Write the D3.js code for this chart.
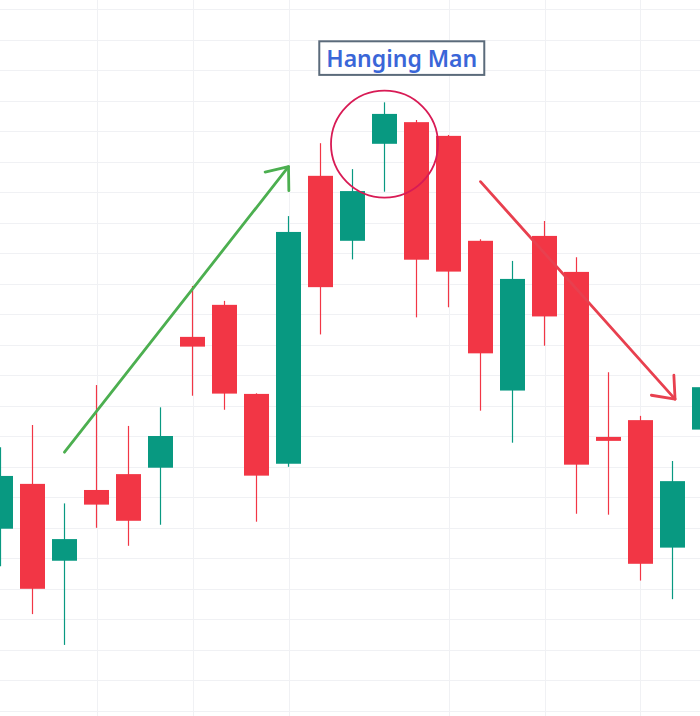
<!DOCTYPE html>
<html>
<head>
<meta charset="utf-8">
<script src="https://cdn.jsdelivr.net/npm/d3@7"></script>
<style>
  body { margin: 0; background: #fff; }
  svg { display: block; }
</style>
</head>
<body>
<svg width="700" height="716"></svg>
<script>
// candles (price units, one grid step = 10)
const opens  = [59.7, 74.4, 49.2, 72.4, 77.6, 79.7, 122.6, 133.1, 103.9, 81.0, 175.4, 154.1, 185.9, 193.0, 188.5, 154.1, 105.0, 155.7, 143.9, 89.8, 95.3, 53.5, 92.2];
const highs  = [86.4, 93.7, 68.0, 106.8, 93.4, 99.5, 139.3, 134.4, 104.1, 162.2, 186.1, 177.6, 199.5, 193.7, 188.8, 154.6, 147.5, 160.6, 148.7, 111.0, 96.7, 81.9, 110.0];
const lows   = [47.4, 31.7, 21.6, 60.0, 54.1, 61.0, 103.3, 98.7, 62.0, 80.0, 123.4, 148.0, 170.2, 129.0, 132.3, 98.4, 87.9, 119.7, 64.6, 64.3, 42.7, 36.6, 88.0];
const closes = [77.0, 40.0, 56.3, 67.6, 62.3, 90.1, 119.4, 104.0, 77.1, 157.0, 138.9, 170.4, 195.7, 147.9, 144.0, 117.2, 141.6, 129.3, 80.7, 88.5, 48.2, 75.3, 106.1];

// grid positions
const vGrid = [3, 6, 9, 14, 17, 20];
const hGrid = d3.range(0, 240, 10);

// annotations (candle index, price)
const upArrow = [[2.0, 84.8], [9.0, 178.4]];
const downArrow = [[15.0, 173.5], [21.08, 102.2]];
const patternIdx = 12, patternPrice = 185.8;
const labelText = "Hanging Man";
const labelPos = [12.54, 214.0];

const red = "#f23645", green = "#089981";

const svg = d3.select("svg");
const x = d3.scaleLinear().domain([0, 22]).range([0.5, 704.5]);
const y = d3.scaleLinear().domain([0, 230]).range([710.8, 9.3]);

const candles = opens.map((o, i) => ({i: i, o: o, h: highs[i], l: lows[i], c: closes[i]}));

// grid
svg.append("g").selectAll("line").data(hGrid).enter().append("line")
  .attr("x1", 0).attr("x2", 700)
  .attr("y1", d => Math.round(y(d)) + 0.5).attr("y2", d => Math.round(y(d)) + 0.5)
  .attr("stroke", "#f0f1f4").attr("stroke-width", 1);
svg.append("g").selectAll("line").data(vGrid).enter().append("line")
  .attr("x1", d => Math.round(x(d)) + 0.5).attr("x2", d => Math.round(x(d)) + 0.5)
  .attr("y1", 0).attr("y2", 716)
  .attr("stroke", "#f0f1f4").attr("stroke-width", 1);

// candles
const cg = svg.append("g").selectAll("g").data(candles).enter().append("g");
cg.append("line")
  .attr("x1", d => x(d.i)).attr("x2", d => x(d.i))
  .attr("y1", d => y(d.h)).attr("y2", d => y(d.l))
  .attr("stroke", d => d.c >= d.o ? green : red)
  .attr("stroke-width", 1.2);
cg.append("rect")
  .attr("x", d => x(d.i) - 12.5)
  .attr("width", 25)
  .attr("y", d => y(Math.max(d.o, d.c)))
  .attr("height", d => Math.max(1, Math.abs(y(d.o) - y(d.c))))
  .attr("fill", d => d.c >= d.o ? green : red);

// arrows
function arrow(pts, color) {
  const [p0, p1] = pts.map(p => [x(p[0]), y(p[1])]);
  const ang = Math.atan2(p1[1] - p0[1], p1[0] - p0[0]);
  const len = 24, spread = 0.68;
  const a1 = [p1[0] - len * Math.cos(ang - spread), p1[1] - len * Math.sin(ang - spread)];
  const a2 = [p1[0] - len * Math.cos(ang + spread), p1[1] - len * Math.sin(ang + spread)];
  const g = svg.append("g").attr("stroke", color).attr("stroke-width", 2.8)
    .attr("fill", "none").attr("stroke-linecap", "round").attr("stroke-linejoin", "round");
  g.append("line").attr("x1", p0[0]).attr("y1", p0[1]).attr("x2", p1[0]).attr("y2", p1[1]);
  g.append("path").attr("d", d3.line()([a1, p1, a2]));
}
arrow(upArrow, "#4caf50");
arrow(downArrow, "#e8404f");

// pattern circle
svg.append("circle")
  .attr("cx", x(patternIdx)).attr("cy", y(patternPrice))
  .attr("r", 53.5)
  .attr("fill", "none").attr("stroke", "#d81b55").attr("stroke-width", 1.8);

// label
const lg = svg.append("g");
lg.append("text")
  .attr("x", x(labelPos[0])).attr("y", y(labelPos[1]))
  .attr("text-anchor", "middle").attr("dominant-baseline", "central")
  .attr("font-family", "'Noto Sans', sans-serif").attr("font-size", 23)
  .attr("font-weight", 600)
  .attr("fill", "#3a66d8")
  .text(labelText);
lg.insert("rect", "text")
  .attr("x", x(labelPos[0]) - 82.5).attr("y", y(labelPos[1]) - 16.8)
  .attr("width", 165).attr("height", 33.6)
  .attr("fill", "#fff").attr("stroke", "#5b6b7b").attr("stroke-width", 2);
</script>
</body>
</html>
